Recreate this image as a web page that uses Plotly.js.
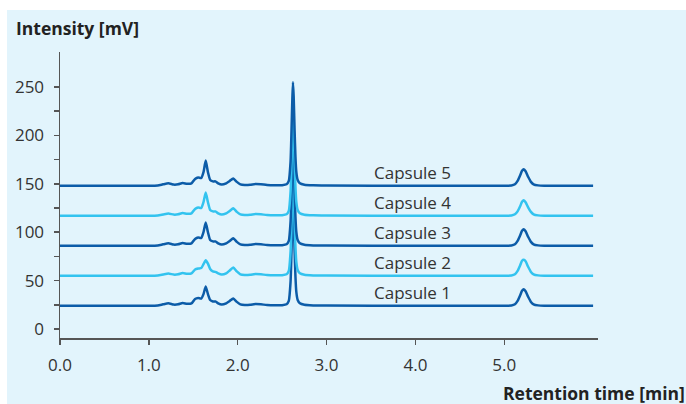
<!DOCTYPE html>
<html><head><meta charset="utf-8">
<script src="https://cdn.plot.ly/plotly-3.0.1.min.js"></script>
<style>
html,body{margin:0;padding:0;background:#ffffff;width:686px;height:404px;overflow:hidden;}
#chart{position:absolute;left:7px;top:10px;width:679px;height:394px;}
</style></head>
<body><div id="chart"></div>
<script>
const seriesNames = ["Capsule 1","Capsule 2","Capsule 3","Capsule 4","Capsule 5"];
const time = [0.00,0.50,1.00,1.10,1.16,1.22,1.28,1.33,1.38,1.43,1.48,1.52,1.555,1.59,1.615,1.64,1.665,1.69,1.72,1.75,1.78,1.82,1.87,1.91,1.95,1.99,2.03,2.08,2.14,2.20,2.26,2.33,2.42,2.50,2.55,2.575,2.595,2.605,2.615,2.622,2.63,2.64,2.65,2.66,2.675,2.70,2.75,2.85,3.00,4.00,5.00,5.08,5.12,5.15,5.18,5.20,5.22,5.24,5.27,5.30,5.33,5.38,5.45,6.00];
const capsule1 = [24,24,24,24.3,25.5,26.5,25.2,25.5,26.8,26,26.5,31,32,31.5,36,44,36,30,28.5,28.5,26.5,25.2,26.5,29,31.5,28,25.5,24.8,25,25.8,25.5,24.8,24.5,24.6,25.5,29,49,78,113,130,115,81,54,38,30,26.5,25,24.4,24.2,24,24,24.2,25.5,29,35,39.5,41,39,33,28,25.5,24.4,24,24];
const capsule2 = [55,55,55,55.3,56.3,57.3,56.2,56.5,57.8,57,57.5,61.5,62.5,63,67,71,67.5,62,59.5,59,57.5,56.3,57.5,60.5,63.5,59.5,56.5,55.8,56,56.8,56.5,55.8,55.5,55.6,56.5,60,80,109,144,161,146,112,85,69,61,57.5,56,55.4,55.2,55,55,55.2,56.5,60,66,70.5,71.5,70,64,59,56.5,55.4,55,55];
const capsule3 = [86,86,86,86.3,87.5,88.5,87.2,87.5,88.8,88,88.5,93,94.5,94,100,110,100,92,90.5,90.5,88.5,87.2,88.5,91,93.7,90,87.5,86.8,87,87.8,87.5,86.8,86.5,86.6,87.5,91,111,140,175,192,177,143,116,100,92,88.5,87,86.4,86.2,86,86,86.2,87.5,91,97,101.5,103,101,95,90,87.5,86.4,86,86];
const capsule4 = [117,117,117,117.3,118.3,119.3,118.2,118.5,119.8,119,119.5,124,125.5,125,131,141,131,123,121.5,121.5,119.5,118.2,119.5,122,124.7,121,118.5,117.8,118,118.8,118.5,117.8,117.5,117.6,118.5,122,142,171,206,223,208,174,147,131,123,119.5,118,117.4,117.2,117,117,117.2,118.5,121.5,127,131.5,133,131,125.5,121,118.5,117.4,117,117];
const capsule5 = [148,148,148,148.3,149.5,150.5,149.2,149.5,150.8,150,150.5,155,156.5,156,162,174,162,154,152.5,152.5,150.5,149.2,150.5,153,155.5,152,149.5,148.8,149,149.8,149.5,148.8,148.5,148.6,149.5,153,173,203,238,255,240,206,178,162,154,150.5,149,148.4,148.2,148,148,148.2,149.5,153,159,163.5,165,163,157,152,149.5,148.4,148,148];
const xTickVals = [0,1,2,3,4,5];
const xTickText = ["0.0","1.0","2.0","3.0","4.0","5.0"];
const yTickVals = [0,50,100,150,200,250];
const yMinorVals = [25,75,125,175,225];

const allSeries = [capsule1,capsule2,capsule3,capsule4,capsule5];
const dark = "#0c5ca8", light = "#33c3ef";
const colors = [dark, light, dark, light, dark];
const FONT = "'Open Sans', 'Noto Sans', sans-serif";

const traces = allSeries.map((ys,i)=>({
  x: time, y: ys, type:"scatter", mode:"lines", name: seriesNames[i],
  line:{color: colors[i], width:2.5, shape:"spline", smoothing:0.5},
  hoverinfo:"skip"
}));

const annotations = allSeries.map((ys,i)=>({
  x: 3.97, y: ys[ys.length-1], xref:"x", yref:"y",
  text: seriesNames[i], showarrow:false, xanchor:"center", yanchor:"bottom", yshift:0,
  font:{family:FONT, size:17, color:"#333333"}
}));
annotations.push({
  text:"<b>Intensity [mV]</b>", xref:"paper", yref:"paper", x:-0.0855, y:1.084,
  xanchor:"left", yanchor:"middle", showarrow:false,
  font:{family:FONT, size:17.5, color:"#222222"}
});
annotations.push({
  text:"<b>Retention time [min]</b>", xref:"paper", yref:"paper", x:1.166, y:-0.192,
  xanchor:"right", yanchor:"middle", showarrow:false,
  font:{family:FONT, size:17.5, color:"#222222"}
});

const layout = {
  width:679, height:394,
  margin:{l:53, r:88, t:42, b:66},
  paper_bgcolor:"#e2f4fc", plot_bgcolor:"#e2f4fc",
  showlegend:false,
  xaxis:{range:[0,6.055], tickmode:"array", tickvals:xTickVals, ticktext:xTickText,
    showgrid:false, zeroline:false, showline:true, linecolor:"#555555", linewidth:1.5,
    ticks:"outside", ticklen:5, tickwidth:1.5, tickcolor:"#555555", ticklabelstandoff:6,
    tickfont:{family:FONT, size:17, color:"#333333"}, fixedrange:true},
  yaxis:{range:[-9.3,286.2], tickmode:"array", tickvals:yTickVals,
    showgrid:false, zeroline:false, showline:true, linecolor:"#555555", linewidth:1.5,
    ticks:"outside", ticklen:5, tickwidth:1.5, tickcolor:"#555555", ticklabelstandoff:6,
    minor:{tickmode:"array", tickvals:yMinorVals, ticks:"outside", ticklen:5, tickwidth:1.5, tickcolor:"#555555", showgrid:false},
    tickfont:{family:FONT, size:17, color:"#333333"}, fixedrange:true},
  annotations: annotations
};
Plotly.newPlot("chart", traces, layout, {staticPlot:true, displayModeBar:false});
</script></body></html>
